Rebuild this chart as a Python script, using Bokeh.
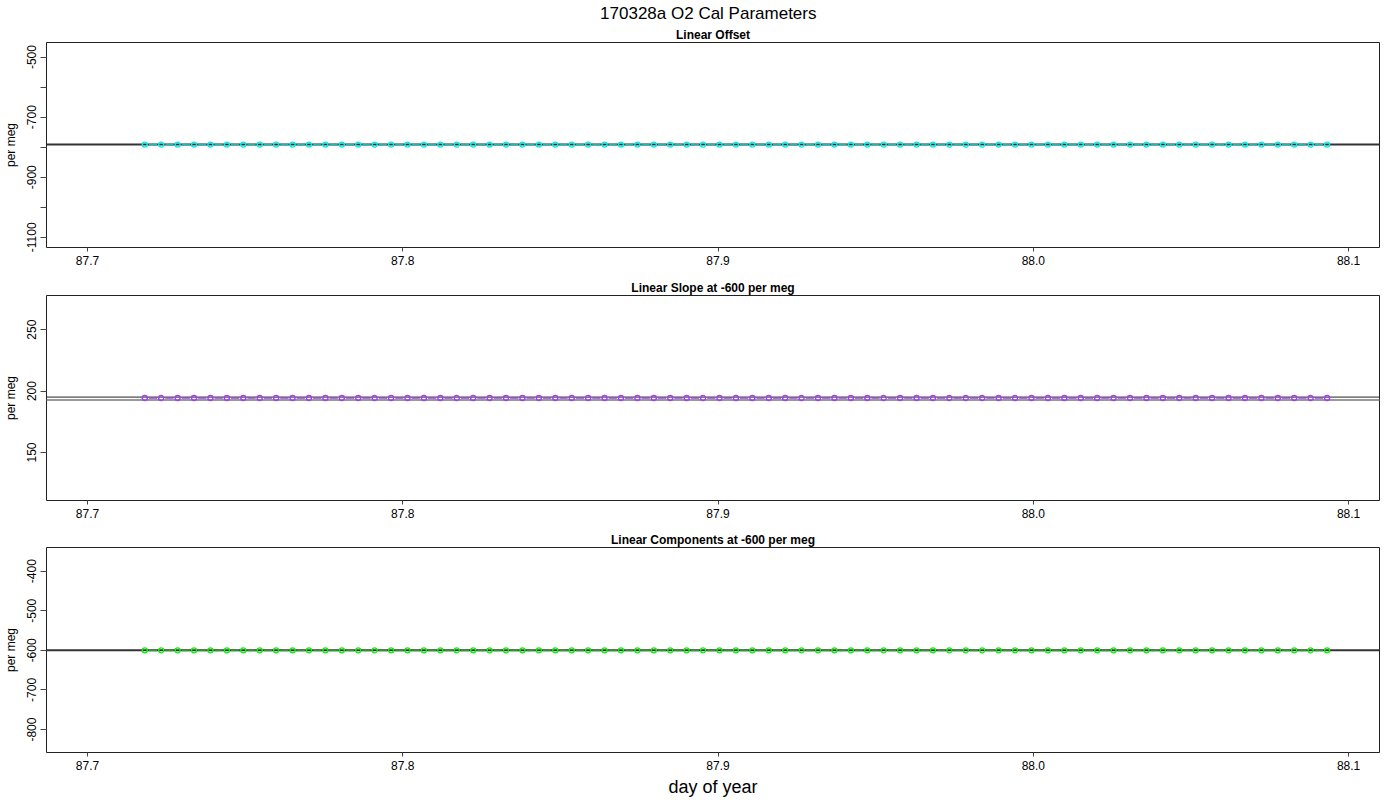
from bokeh.plotting import figure
from bokeh.models import Range1d, FixedTicker, Title, Span, ColumnDataSource, PrintfTickFormatter
from bokeh.layouts import column
from bokeh.embed import file_html
from bokeh.resources import INLINE

# ---- data ----
day = [87.71817, 87.72338, 87.72859, 87.73380, 87.73900, 87.74421, 87.74942, 87.75463,
       87.75984, 87.76505, 87.77025, 87.77546, 87.78067, 87.78588, 87.79109, 87.79630,
       87.80150, 87.80671, 87.81192, 87.81713, 87.82234, 87.82755, 87.83275, 87.83796,
       87.84317, 87.84838, 87.85359, 87.85880, 87.86400, 87.86921, 87.87442, 87.87963,
       87.88484, 87.89005, 87.89525, 87.90046, 87.90567, 87.91088, 87.91609, 87.92130,
       87.92650, 87.93171, 87.93692, 87.94213, 87.94734, 87.95255, 87.95775, 87.96296,
       87.96817, 87.97338, 87.97859, 87.98380, 87.98900, 87.99421, 87.99942, 88.00463,
       88.00984, 88.01505, 88.02025, 88.02546, 88.03067, 88.03588, 88.04109, 88.04630,
       88.05150, 88.05671, 88.06192, 88.06713, 88.07234, 88.07755, 88.08275, 88.08796,
       88.09317]

linear_offset = [-791.5, -791.5, -791.5, -791.5, -791.5, -791.5, -791.5, -791.5, -791.5, -791.5,
                 -791.5, -791.5, -791.5, -791.5, -791.5, -791.5, -791.5, -791.5, -791.5, -791.5,
                 -791.5, -791.5, -791.5, -791.5, -791.5, -791.5, -791.5, -791.5, -791.5, -791.5,
                 -791.5, -791.5, -791.5, -791.5, -791.5, -791.5, -791.5, -791.5, -791.5, -791.5,
                 -791.5, -791.5, -791.5, -791.5, -791.5, -791.5, -791.5, -791.5, -791.5, -791.5,
                 -791.5, -791.5, -791.5, -791.5, -791.5, -791.5, -791.5, -791.5, -791.5, -791.5,
                 -791.5, -791.5, -791.5, -791.5, -791.5, -791.5, -791.5, -791.5, -791.5, -791.5,
                 -791.5, -791.5, -791.5]

linear_slope = [194.3, 194.3, 194.3, 194.3, 194.3, 194.3, 194.3, 194.3, 194.3, 194.3,
                194.3, 194.3, 194.3, 194.3, 194.3, 194.3, 194.3, 194.3, 194.3, 194.3,
                194.3, 194.3, 194.3, 194.3, 194.3, 194.3, 194.3, 194.3, 194.3, 194.3,
                194.3, 194.3, 194.3, 194.3, 194.3, 194.3, 194.3, 194.3, 194.3, 194.3,
                194.3, 194.3, 194.3, 194.3, 194.3, 194.3, 194.3, 194.3, 194.3, 194.3,
                194.3, 194.3, 194.3, 194.3, 194.3, 194.3, 194.3, 194.3, 194.3, 194.3,
                194.3, 194.3, 194.3, 194.3, 194.3, 194.3, 194.3, 194.3, 194.3, 194.3,
                194.3, 194.3, 194.3]

linear_components = [-600, -600, -600, -600, -600, -600, -600, -600, -600, -600,
                     -600, -600, -600, -600, -600, -600, -600, -600, -600, -600,
                     -600, -600, -600, -600, -600, -600, -600, -600, -600, -600,
                     -600, -600, -600, -600, -600, -600, -600, -600, -600, -600,
                     -600, -600, -600, -600, -600, -600, -600, -600, -600, -600,
                     -600, -600, -600, -600, -600, -600, -600, -600, -600, -600,
                     -600, -600, -600, -600, -600, -600, -600, -600, -600, -600,
                     -600, -600, -600]

offset_ref = [-791.5]
slope_ref_black = [195.1]
slope_ref_gray = [192.7]
components_ref = [-600]

x_ticks = [87.7, 87.8, 87.9, 88.0, 88.1]
offset_ticks = [-1100, -900, -700, -500]
offset_minor = [-1000, -800, -600]
slope_ticks = [150, 200, 250]
components_ticks = [-800, -700, -600, -500, -400]

main_title = "170328a   O2 Cal Parameters"
sub_titles = ["Linear Offset", "Linear Slope at -600 per meg", "Linear Components at -600 per meg"]
y_label = "per meg"
x_label = "day of year"

FONT = "Liberation Sans"
X_RANGE = (87.687, 88.1098)


def make_panel(values, y_range, ticks, minor, sub, pt_color, ln_color, top, bottom, xlab=None):
    p = figure(frame_width=1333, frame_height=205, output_backend="svg", toolbar_location=None,
               x_range=Range1d(*X_RANGE), y_range=Range1d(*y_range),
               min_border_left=40, min_border_right=11, min_border_top=top,
               min_border_bottom=bottom, background_fill_color="white",
               border_fill_color="white")
    p.xgrid.visible = False
    p.ygrid.visible = False
    p.outline_line_color = "#222222"
    p.outline_line_width = 1

    xa = p.xaxis[0]
    xa.ticker = FixedTicker(ticks=x_ticks)
    xa.formatter = PrintfTickFormatter(format="%.1f")
    xa.axis_line_color = None
    xa.major_tick_out = 4
    xa.major_tick_in = 0
    xa.minor_tick_line_color = None
    xa.major_label_standoff = 4
    xa.major_label_text_font = FONT
    xa.major_label_text_font_size = "12px"
    xa.major_label_text_color = "black"
    xa.major_tick_line_color = "#444444"
    if xlab:
        xa.axis_label = xlab
        xa.axis_label_text_font = FONT
        xa.axis_label_text_font_size = "18px"
        xa.axis_label_text_font_style = "normal"
        xa.axis_label_text_color = "black"
        xa.axis_label_standoff = 4

    ya = p.yaxis[0]
    ya.ticker = FixedTicker(ticks=ticks, minor_ticks=minor)
    ya.formatter = PrintfTickFormatter(format="%d")
    ya.axis_line_color = None
    ya.major_tick_out = 6
    ya.major_tick_in = 0
    ya.minor_tick_out = 6
    ya.minor_tick_in = 0
    ya.major_tick_line_color = "#444444"
    ya.minor_tick_line_color = "#444444"
    ya.major_label_orientation = "vertical"
    ya.major_label_standoff = 4
    ya.major_label_text_font = FONT
    ya.major_label_text_font_size = "12px"
    ya.major_label_text_color = "black"
    ya.axis_label = y_label
    ya.axis_label_text_font = FONT
    ya.axis_label_text_font_size = "12px"
    ya.axis_label_text_font_style = "normal"
    ya.axis_label_text_color = "black"
    ya.axis_label_standoff = 7

    p.add_layout(Title(text=sub, align="center", text_font=FONT, text_font_size="12px",
                       text_font_style="bold", text_color="black", standoff=2), "above")

    # R type="b": line segments with gaps around points
    x0 = [a + 0.25 * (b - a) for a, b in zip(day[:-1], day[1:])]
    x1 = [b - 0.25 * (b - a) for a, b in zip(day[:-1], day[1:])]
    src = ColumnDataSource(dict(x0=x0, x1=x1, y0=values[:-1], y1=values[1:]))
    p.segment(x0="x0", y0="y0", x1="x1", y1="y1", source=src, line_color=ln_color, line_width=1.6)
    p.scatter(day, values, size=5, marker="circle", fill_color=None, line_color=pt_color, line_width=1.4)
    return p


p1 = make_panel(linear_offset, (-1134, -451.5), offset_ticks, offset_minor, sub_titles[0],
                "#00F0F0", "#22B5B5", 30, 23)
p1.add_layout(Span(location=offset_ref[0], dimension="width", line_color="#333333", line_width=2), "center")
p1.add_layout(Title(text=main_title, align="center", text_font=FONT, text_font_size="17px",
                    text_font_style="normal", text_color="black", standoff=3, offset=-9), "above")

p2 = make_panel(linear_slope, (110.9, 277.8), slope_ticks, [], sub_titles[1],
                "#A040F0", "#9A40E0", 25, 22)
p2.add_layout(Span(location=slope_ref_gray[0], dimension="width", line_color="#999999", line_width=2), "center")
p2.add_layout(Span(location=slope_ref_black[0], dimension="width", line_color="#222222", line_width=1), "center")

p3 = make_panel(linear_components, (-858, -340.2), components_ticks, [], sub_titles[2],
                "#10F010", "#2E9A2E", 25, 40, xlab=x_label)
p3.add_layout(Span(location=components_ref[0], dimension="width", line_color="#333333", line_width=2), "center")

for p in (p1, p2, p3):
    for s in p.center:
        if isinstance(s, Span):
            s.level = "underlay"

layout = column(p1, p2, p3, spacing=0)
open("out.html", "w").write(file_html(layout, INLINE))
